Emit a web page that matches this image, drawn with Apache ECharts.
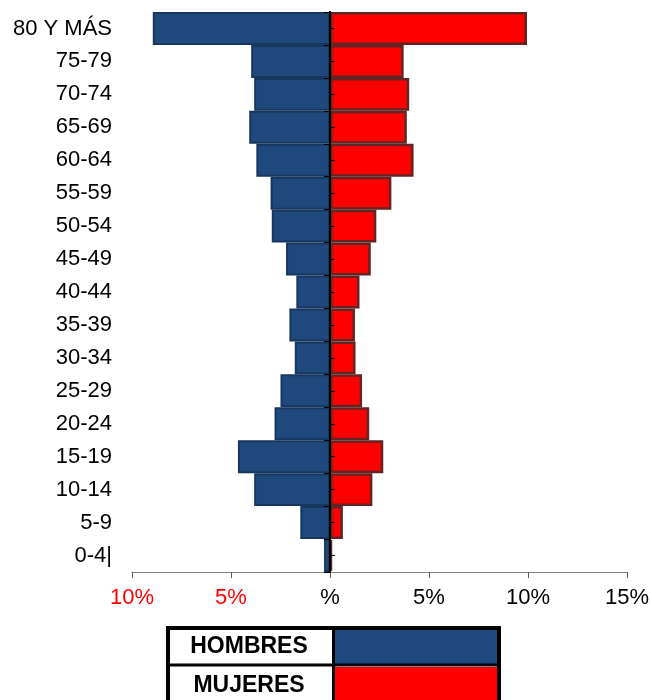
<!DOCTYPE html>
<html>
<head>
<meta charset="utf-8">
<script src="https://cdn.jsdelivr.net/npm/echarts@6/dist/echarts.min.js"></script>
<style>
  html, body { margin: 0; padding: 0; background: #fff; }
  #main { width: 652px; height: 700px; }
</style>
</head>
<body>
<div id="main"></div>
<script>
// grupos de edad (de arriba a abajo)
const edades = ['80 Y MÁS', '75-79', '70-74', '65-69', '60-64', '55-59', '50-54', '45-49',
  '40-44', '35-39', '30-34', '25-29', '20-24', '15-19', '10-14', '5-9', '0-4|'];
// porcentajes
const hombres = [8.95, 3.98, 3.83, 4.08, 3.72, 3.0, 2.94, 2.22, 1.7, 2.05, 1.78, 2.5, 2.8, 4.65, 3.83, 1.5, 0.3];
const mujeres = [9.95, 3.72, 4.0, 3.88, 4.22, 3.1, 2.34, 2.06, 1.49, 1.26, 1.29, 1.62, 1.98, 2.69, 2.14, 0.65, 0.1];
// eje x
const xMin = -10, xMax = 15, xPaso = 5;
const leyenda = ['HOMBRES', 'MUJERES'];

const AZUL = '#1F497D', AZUL_BORDE = '#17375E';
const ROJO = '#FF0000', ROJO_BORDE = '#632523';
const FUENTE = '"Liberation Sans", Arial, sans-serif';

const chart = echarts.init(document.getElementById('main'));

// ---------- leyenda tipo tabla ----------
const tabla = [
  { type: 'rect', shape: { x: 335, y: 630, width: 162, height: 34 }, style: { fill: AZUL } },
  { type: 'rect', shape: { x: 335, y: 667, width: 162, height: 40 }, style: { fill: ROJO } },
  { type: 'rect', shape: { x: 168, y: 628, width: 331, height: 80 }, style: { fill: null, stroke: '#000', lineWidth: 4 } },
  { type: 'line', shape: { x1: 333.5, y1: 628, x2: 333.5, y2: 700 }, style: { stroke: '#000', lineWidth: 3 } },
  { type: 'line', shape: { x1: 168, y1: 665, x2: 499, y2: 665 }, style: { stroke: '#000', lineWidth: 3 } },
  { type: 'text', x: 249, y: 647, style: { text: leyenda[0], font: 'bold 23px ' + FUENTE, fill: '#000', align: 'center', verticalAlign: 'middle' } },
  { type: 'text', x: 249, y: 686, style: { text: leyenda[1], font: 'bold 23px ' + FUENTE, fill: '#000', align: 'center', verticalAlign: 'middle' } }
];

const option = {
  backgroundColor: '#fff',
  animation: false,
  grid: { left: 132, right: 23, top: 12, bottom: 128 },
  xAxis: [
    {
      type: 'value',
      min: xMin, max: xMax, interval: xPaso,
      axisLine: { show: true, onZero: false, lineStyle: { color: '#808080', width: 1 } },
      axisTick: { show: true, length: 6, lineStyle: { color: '#595959' } },
      splitLine: { show: false },
      axisLabel: {
        margin: 15,
        fontSize: 22,
        fontFamily: FUENTE,
        color: v => (Number(v) < 0 ? '#FF0000' : '#000'),
        formatter: v => (v === 0 ? '%' : Math.abs(v) + '%')
      }
    },
    {
      // eje auxiliar invisible, solo para las marcas centrales
      type: 'value', position: 'top',
      min: xMin, max: xMax, interval: xPaso,
      axisLine: { show: false, onZero: false },
      axisTick: { show: false },
      axisLabel: { show: false },
      splitLine: { show: false }
    }
  ],
  yAxis: [
    {
      // etiquetas a la izquierda
      type: 'category', data: edades, inverse: true, position: 'left',
      axisLine: { show: false, onZero: false },
      axisTick: { show: false },
      axisLabel: { margin: 20, fontSize: 22, fontFamily: FUENTE, color: '#000' }
    },
    {
      // línea central con marcas en los límites
      type: 'category', data: edades, inverse: true, position: 'left', z: 10,
      axisLine: { show: true, onZero: true, onZeroAxisIndex: 0, lineStyle: { color: '#000', width: 2 } },
      axisTick: { show: true, length: 6, lineStyle: { color: '#000' } },
      axisLabel: { show: false }
    },
    {
      // marcas pequeñas al centro de cada grupo
      type: 'category', data: edades, inverse: true, position: 'left', z: 10,
      axisLine: { show: true, onZero: true, onZeroAxisIndex: 1, lineStyle: { color: '#000', width: 2 } },
      axisTick: { show: true, inside: true, alignWithLabel: true, length: 5, lineStyle: { color: '#000' } },
      axisLabel: { show: false }
    }
  ],
  series: [
    {
      name: leyenda[0], type: 'bar', stack: 'total', barWidth: '100%',
      data: hombres.map(v => -v),
      itemStyle: { color: AZUL, borderColor: AZUL_BORDE, borderWidth: 2 }
    },
    {
      name: leyenda[1], type: 'bar', stack: 'total', barWidth: '100%',
      data: mujeres,
      itemStyle: { color: ROJO, borderColor: ROJO_BORDE, borderWidth: 2.5 }
    }
  ],
  graphic: tabla
};

chart.setOption(option);
</script>
</body>
</html>
